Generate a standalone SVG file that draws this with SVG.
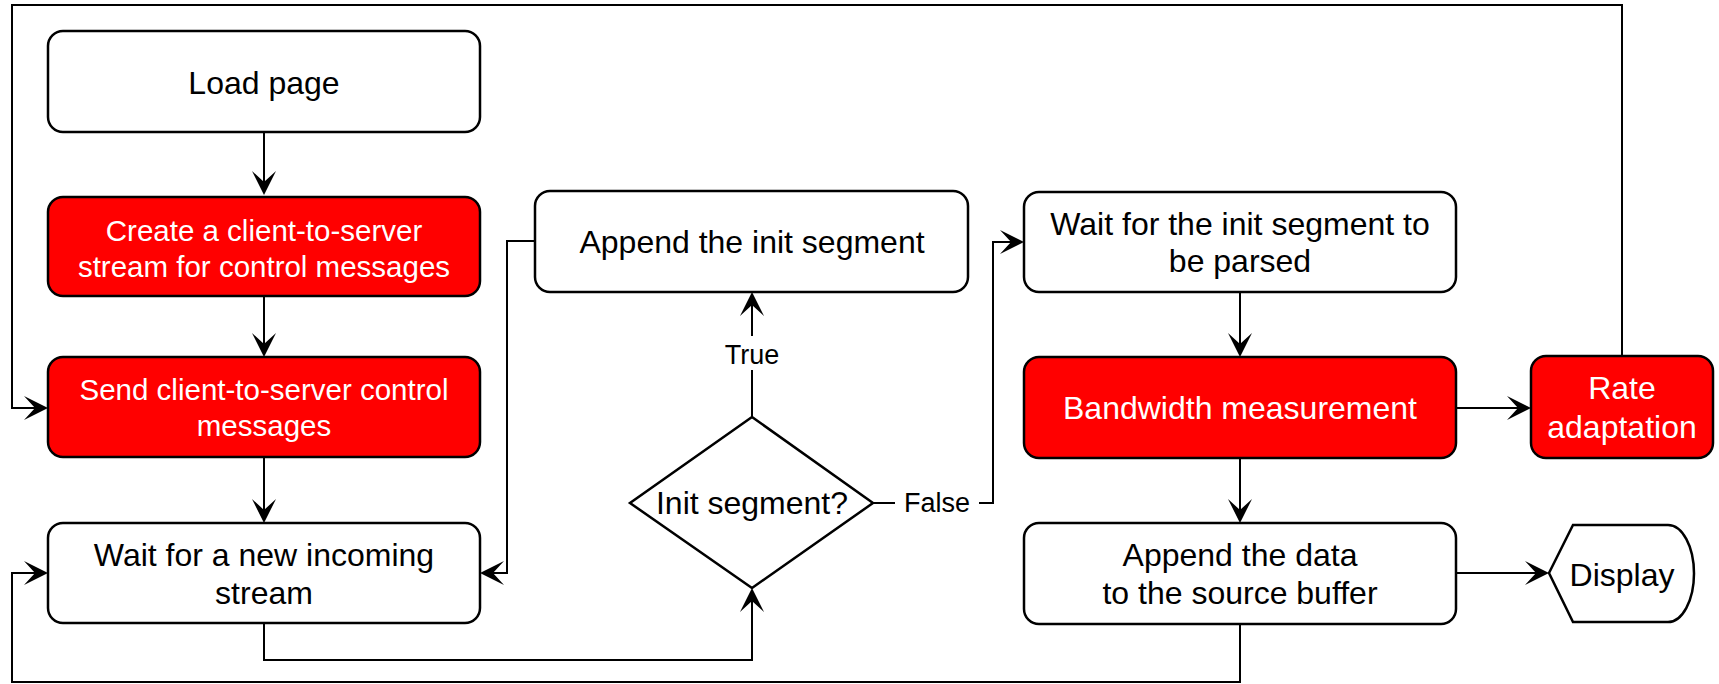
<svg xmlns="http://www.w3.org/2000/svg" width="1719" height="684" viewBox="0 0 1719 684">
  <style>
    .box { fill: #ffffff; stroke: #000000; stroke-width: 2.5; }
    .red { fill: #ff0000; stroke: #000000; stroke-width: 2.5; }
    .edge { fill: none; stroke: #000000; stroke-width: 2; }
    .t { font-family: "Liberation Sans", Arial, sans-serif; font-size: 32px; fill: #000000; text-anchor: middle; }
    .tw { font-family: "Liberation Sans", Arial, sans-serif; font-size: 29.5px; fill: #ffffff; text-anchor: middle; }
    .tw32 { font-family: "Liberation Sans", Arial, sans-serif; font-size: 32px; fill: #ffffff; text-anchor: middle; }
    .lbl { font-family: "Liberation Sans", Arial, sans-serif; font-size: 27px; fill: #000000; text-anchor: middle; }
  </style>
  <defs>
    <marker id="arrow" viewBox="-25 -13 26 26" markerWidth="26" markerHeight="26" refX="-4" refY="0" orient="auto" markerUnits="userSpaceOnUse">
      <path d="M0,0 L-24,-12 L-13,0 L-24,12 Z" fill="#000000"/>
    </marker>
  </defs>

  <!-- connectors -->
  <g id="connectors">
    <path class="edge" d="M264,132 V191" marker-end="url(#arrow)"/>
    <path class="edge" d="M264,296 V353" marker-end="url(#arrow)"/>
    <path class="edge" d="M264,457 V519" marker-end="url(#arrow)"/>
    <!-- feedback from rate adaptation -->
    <path class="edge" d="M1622,356 V5 H12 V408 H44" marker-end="url(#arrow)"/>
    <!-- loop back after appending data -->
    <path class="edge" d="M1240,624 V682 H12 V573 H44" marker-end="url(#arrow)"/>
    <!-- init segment appended, wait again -->
    <path class="edge" d="M535,241 H507 V573 H484" marker-end="url(#arrow)"/>
    <!-- incoming stream to decision -->
    <path class="edge" d="M264,623 V660 H752 V592" marker-end="url(#arrow)"/>
    <!-- True branch -->
    <path class="edge" d="M752,417 V296" marker-end="url(#arrow)"/>
    <!-- False branch -->
    <path class="edge" d="M873,503 H993 V242 H1020" marker-end="url(#arrow)"/>
    <path class="edge" d="M1240,292 V353" marker-end="url(#arrow)"/>
    <path class="edge" d="M1456,408 H1527" marker-end="url(#arrow)"/>
    <path class="edge" d="M1240,458 V519" marker-end="url(#arrow)"/>
    <path class="edge" d="M1456,573 H1545" marker-end="url(#arrow)"/>
    <!-- edge labels -->
    <rect x="730" y="336" width="44" height="34" fill="#ffffff"/>
    <text class="lbl" x="752" y="364">True</text>
    <rect x="895" y="486" width="84" height="34" fill="#ffffff"/>
    <text class="lbl" x="937" y="512">False</text>
  </g>

  <g id="load-page">
    <rect class="box" x="48" y="31" width="432" height="101" rx="15"/>
    <text class="t" x="264" y="94">Load page</text>
  </g>

  <g id="create-stream">
    <rect class="red" x="48" y="197" width="432" height="99" rx="15"/>
    <text class="tw" x="264" y="241">Create a client-to-server</text>
    <text class="tw" x="264" y="277">stream for control messages</text>
  </g>

  <g id="send-control">
    <rect class="red" x="48" y="357" width="432" height="100" rx="15"/>
    <text class="tw" x="264" y="400">Send client-to-server control</text>
    <text class="tw" x="264" y="436">messages</text>
  </g>

  <g id="wait-stream">
    <rect class="box" x="48" y="523" width="432" height="100" rx="15"/>
    <text class="t" x="264" y="566">Wait for a new incoming</text>
    <text class="t" x="264" y="604">stream</text>
  </g>

  <g id="append-init">
    <rect class="box" x="535" y="191" width="433" height="101" rx="15"/>
    <text class="t" x="752" y="253">Append the init segment</text>
  </g>

  <g id="init-decision">
    <polygon class="box" points="752,417 873,503 752,588 630,503"/>
    <text class="t" x="752" y="514">Init segment?</text>
  </g>

  <g id="wait-parse">
    <rect class="box" x="1024" y="192" width="432" height="100" rx="15"/>
    <text class="t" x="1240" y="235">Wait for the init segment to</text>
    <text class="t" x="1240" y="272">be parsed</text>
  </g>

  <g id="bandwidth">
    <rect class="red" x="1024" y="357" width="432" height="101" rx="15"/>
    <text class="tw32" x="1240" y="419">Bandwidth measurement</text>
  </g>

  <g id="rate-adaptation">
    <rect class="red" x="1531" y="356" width="182" height="102" rx="15"/>
    <text class="tw32" x="1622" y="399">Rate</text>
    <text class="tw32" x="1622" y="438">adaptation</text>
  </g>

  <g id="append-data">
    <rect class="box" x="1024" y="523" width="432" height="101" rx="15"/>
    <text class="t" x="1240" y="566">Append the data</text>
    <text class="t" x="1240" y="604">to the source buffer</text>
  </g>

  <g id="display">
    <path class="box" d="M1549,573 L1573,525 L1668,525 A26,48.5 0 0 1 1668,622 L1573,622 Z"/>
    <text class="t" x="1622" y="586">Display</text>
  </g>
</svg>
